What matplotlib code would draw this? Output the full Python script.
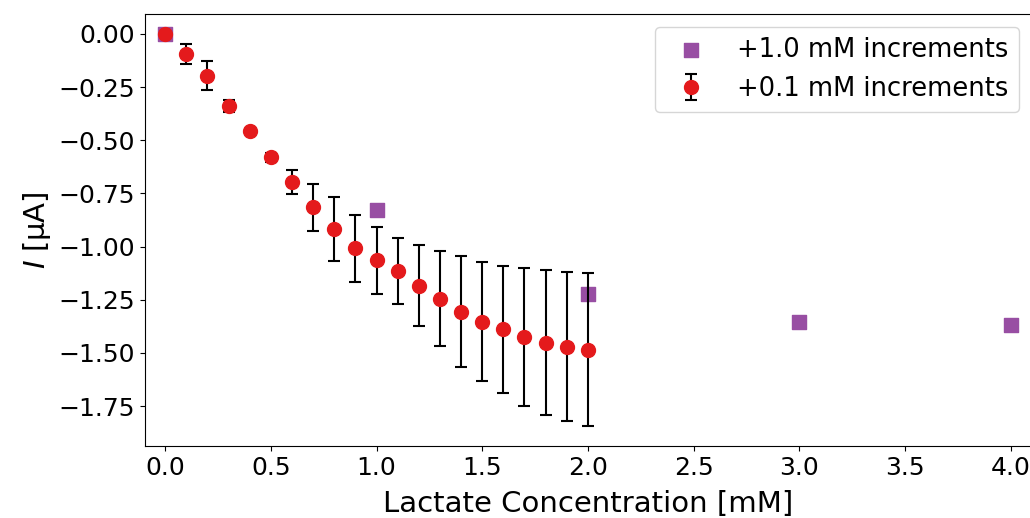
import matplotlib.pyplot as plt
import numpy as np

# +0.1 mM increments (mean and std)
conc_fine = [0.0, 0.1, 0.2, 0.3, 0.4, 0.5, 0.6, 0.7, 0.8, 0.9, 1.0,
             1.1, 1.2, 1.3, 1.4, 1.5, 1.6, 1.7, 1.8, 1.9, 2.0]
current_fine = [0.0, -0.094, -0.196, -0.339, -0.456, -0.580, -0.697, -0.815, -0.917, -1.008, -1.065,
                -1.113, -1.184, -1.246, -1.306, -1.353, -1.389, -1.425, -1.452, -1.471, -1.486]
err_fine = [0.0, 0.045, 0.067, 0.029, 0.008, 0.02, 0.056, 0.11, 0.15, 0.158, 0.157,
            0.155, 0.19, 0.224, 0.26, 0.281, 0.298, 0.325, 0.342, 0.35, 0.36]

# +1.0 mM increments
conc_coarse = [0.0, 1.0, 2.0, 3.0, 4.0]
current_coarse = [0.0, -0.828, -1.222, -1.355, -1.369]

fig = plt.figure(figsize=(10.3, 5.18), dpi=100)
ax = fig.add_axes([0.1408, 0.139, 0.861, 0.834])

ax.scatter(conc_coarse, current_coarse, marker='s', s=110, color='#984ea3',
           label='+1.0 mM increments', zorder=2)
ax.errorbar(conc_fine, current_fine, yerr=err_fine, fmt='o', color='#e41a1c',
            markersize=10, ecolor='black', elinewidth=1.5, capsize=4, capthick=1.5,
            label='+0.1 mM increments', zorder=3)

ax.set_xlim(-0.095, 4.1)
ax.set_ylim(-1.938, 0.094)
ax.set_xticks(np.arange(0, 4.01, 0.5))
ax.set_yticks(np.arange(-1.75, 0.01, 0.25))
ax.tick_params(labelsize=18)

ax.set_xlabel('Lactate Concentration [mM]', fontsize=21, labelpad=7.5)
ax.set_ylabel(r'$I$ [µA]', fontsize=21)
ax.legend(loc='upper right', fontsize=18.5)

fig.savefig('out.png', dpi=100, facecolor='white')
